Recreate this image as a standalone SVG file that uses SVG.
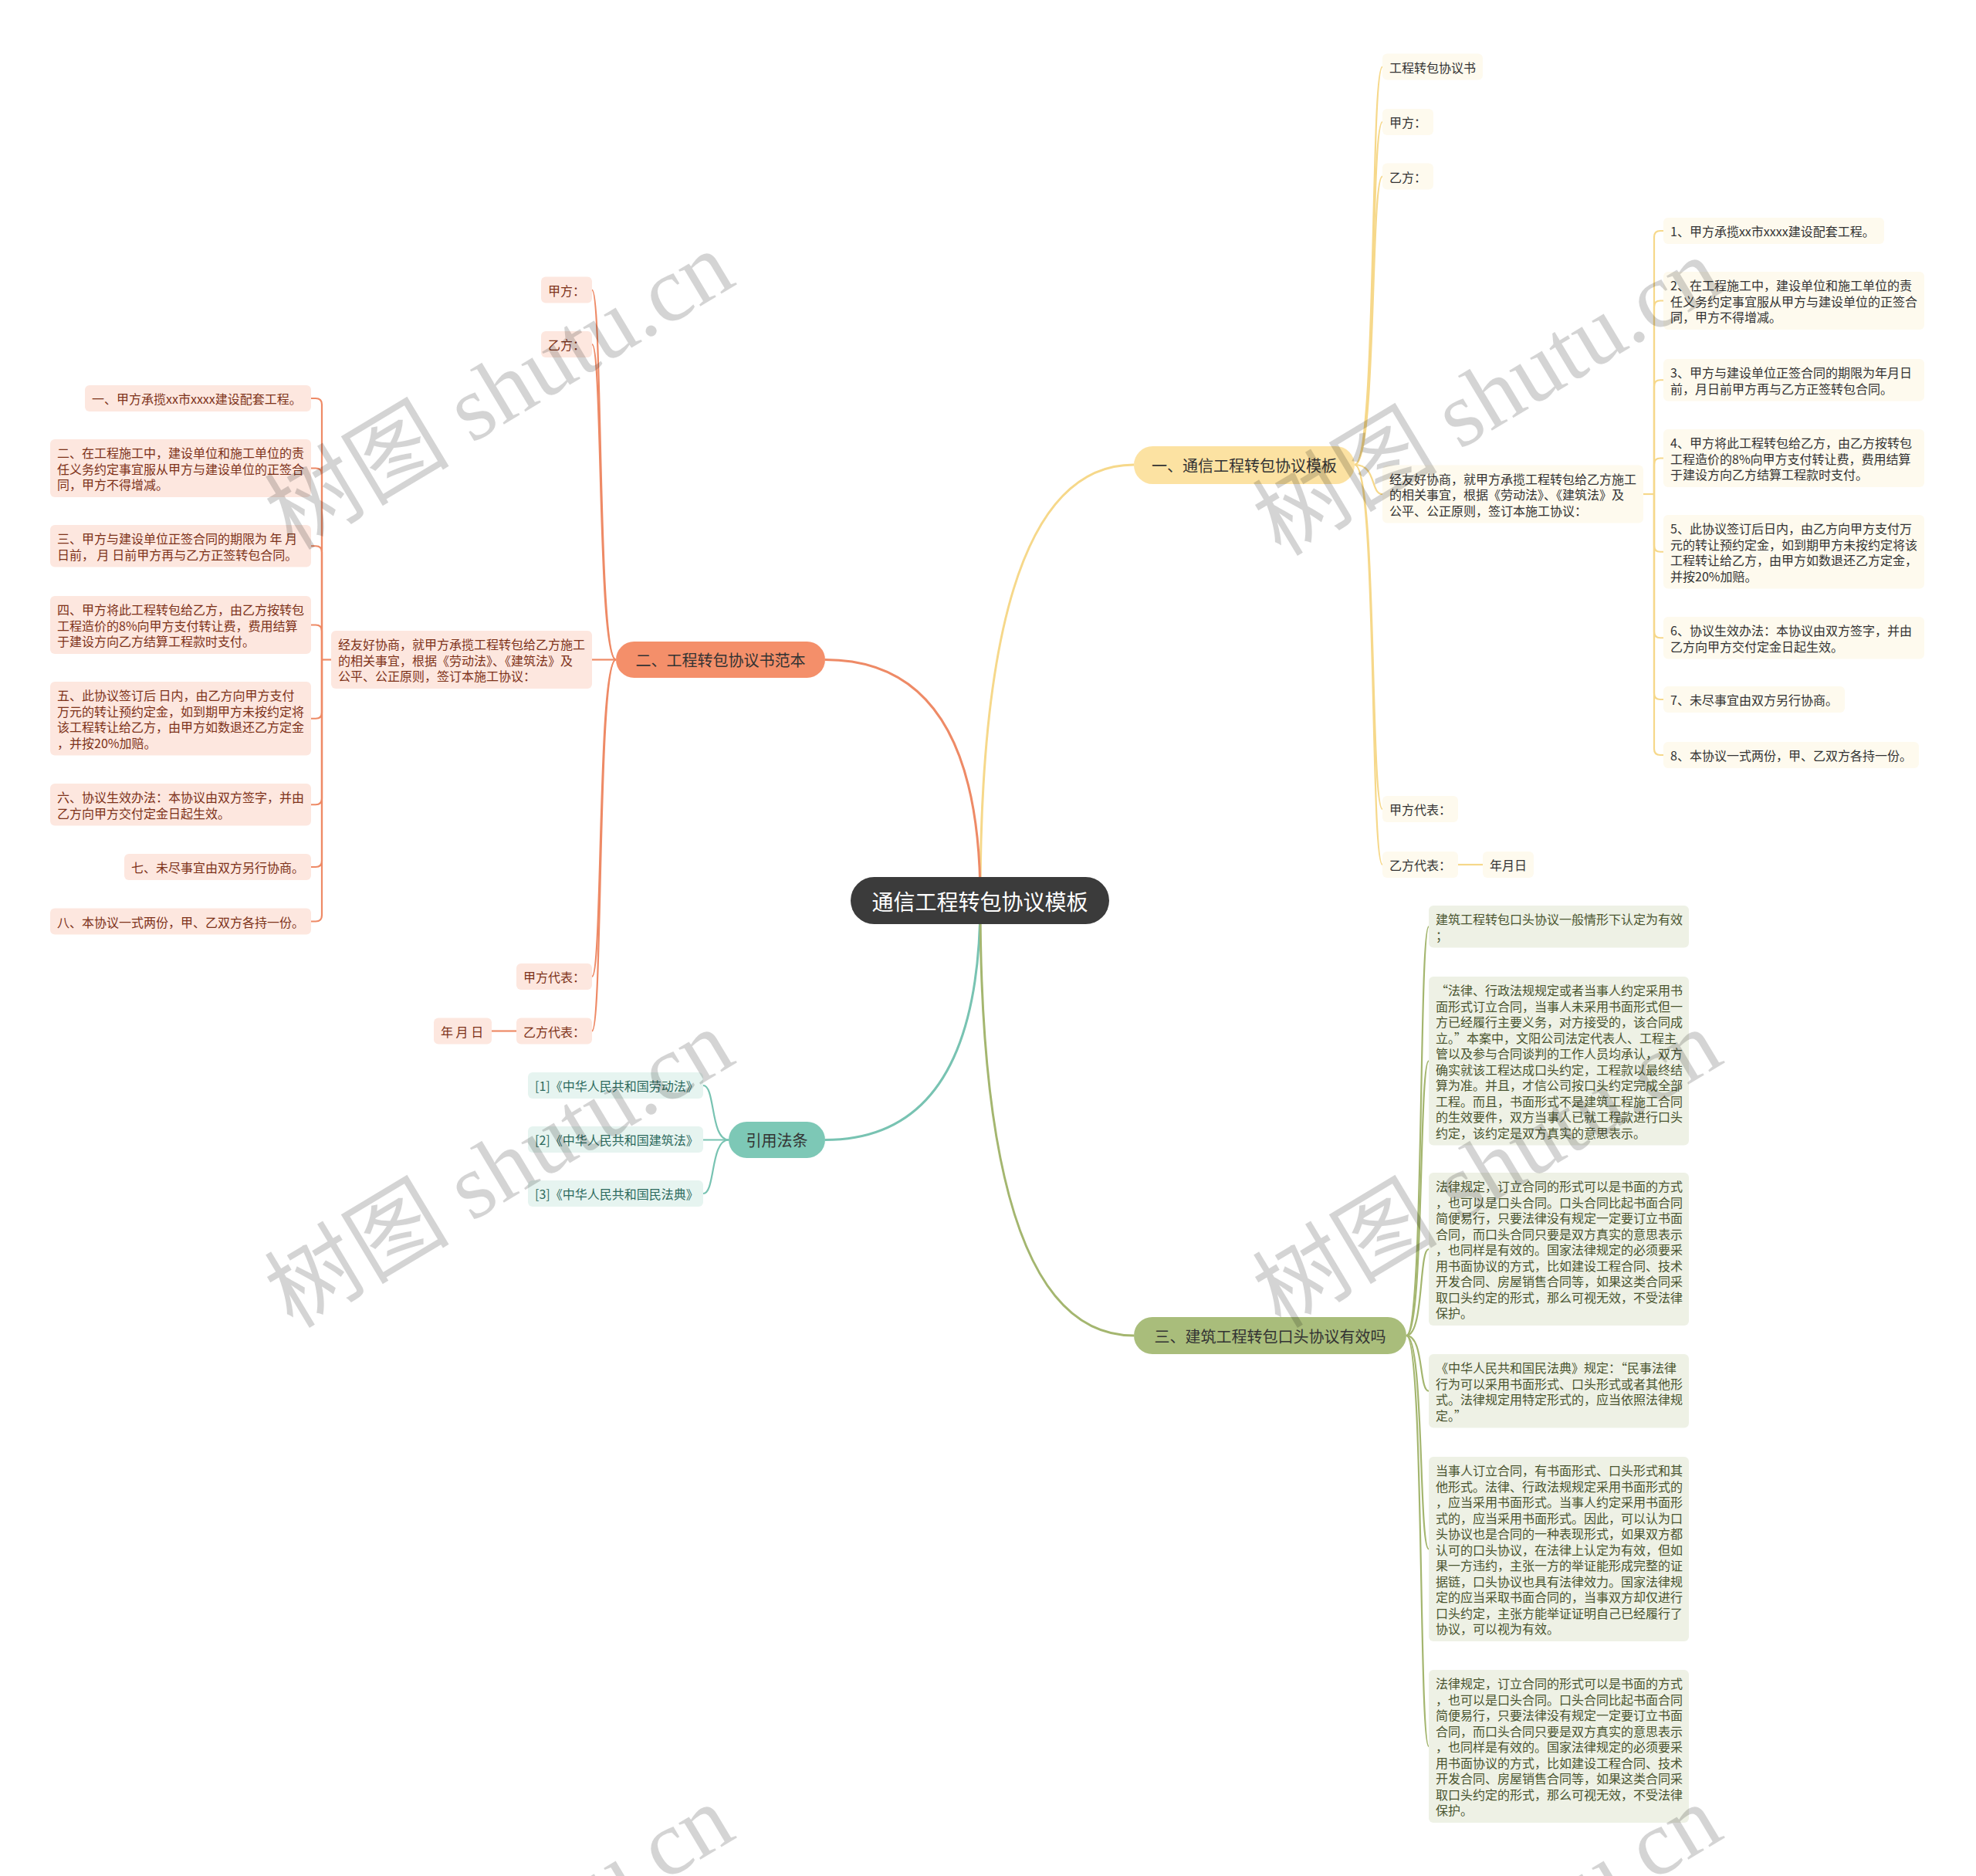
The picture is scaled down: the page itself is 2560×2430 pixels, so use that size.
<svg xmlns="http://www.w3.org/2000/svg" width="2560" height="2430" viewBox="0 0 2560 2430">
<style>
text{font-family:"Noto Sans CJK SC","Noto Sans",sans-serif;dominant-baseline:central}
.s{font-size:16px}
.bt{font-size:20px;fill:#333}
.rt{font-size:28px;fill:#fff}
.cy rect{fill:#fefaee}.cy text{fill:#333}
.co rect{fill:#fde7df}.co text{fill:#7d3219}
.cg rect{fill:#e6f4f0}.cg text{fill:#2d6a5d}
.cv rect{fill:#eef1e5}.cv text{fill:#4a5530}
.ly{stroke:#f6d88a}.lo{stroke:#ee8a66}.lg{stroke:#78c3b2}.lv{stroke:#a4b66f}
#connectors path{fill:none}
.w3{stroke-width:3}.w2{stroke-width:2.2}
.wm{font-family:"Liberation Serif","Noto Sans CJK SC",serif;font-size:120px;fill:#000;fill-opacity:.17;text-anchor:middle}
</style>
<rect width="2560" height="2430" fill="#fff"/>
<g id="connectors">
<path class="ly w3" d="M1270 1166Q1270 602 1469 602"/>
<path class="lo w3" d="M1270 1166Q1270 854.5 1069 854.5"/>
<path class="lg w3" d="M1270 1166Q1270 1476.5 1069 1476.5"/>
<path class="lv w3" d="M1270 1166Q1270 1730 1469 1730"/>
<g class="ly w2">
<path d="M1755 602C1784 602 1775 86.5 1791 86.5"/>
<path d="M1755 602C1784 602 1775 158 1791 158"/>
<path d="M1755 602C1784 602 1775 228.5 1791 228.5"/>
<path d="M1755 602C1784 602 1775 640 1791 640"/>
<path d="M1755 602C1784 602 1775 1048 1791 1048"/>
<path d="M1755 602C1784 602 1775 1120 1791 1120"/>
<path d="M1889 1120H1921"/>
<path d="M2129 640H2143"/>
<path d="M2143 640V307Q2143 299 2151 299H2155"/>
<path d="M2143 640V397.5Q2143 389.5 2151 389.5H2155"/>
<path d="M2143 640V500.25Q2143 492.25 2151 492.25H2155"/>
<path d="M2143 640V601.5Q2143 593.5 2151 593.5H2155"/>
<path d="M2143 640V706.75Q2143 714.75 2151 714.75H2155"/>
<path d="M2143 640V818.25Q2143 826.25 2151 826.25H2155"/>
<path d="M2143 640V898Q2143 906 2151 906H2155"/>
<path d="M2143 640V970Q2143 978 2151 978H2155"/>
</g>
<g class="lo w2">
<path d="M798 854.5C774 854.5 781 375.5 767 375.5"/>
<path d="M798 854.5C774 854.5 781 446 767 446"/>
<path d="M798 854.5H767"/>
<path d="M798 854.5C774 854.5 781 1265 767 1265"/>
<path d="M798 854.5C774 854.5 781 1335.5 767 1335.5"/>
<path d="M669 1335.5H637"/>
<path d="M429 854.5H417"/>
<path d="M417 854.5V524Q417 516 409 516H403"/>
<path d="M417 854.5V614.5Q417 606.5 409 606.5H403"/>
<path d="M417 854.5V715.25Q417 707.25 409 707.25H403"/>
<path d="M417 854.5V817.5Q417 809.5 409 809.5H403"/>
<path d="M417 854.5V922.75Q417 930.75 409 930.75H403"/>
<path d="M417 854.5V1034.25Q417 1042.25 409 1042.25H403"/>
<path d="M417 854.5V1115Q417 1123 409 1123H403"/>
<path d="M417 854.5V1185.5Q417 1193.5 409 1193.5H403"/>
</g>
<g class="lg w2">
<path d="M944 1476.5C920 1476.5 927 1406 911 1406"/>
<path d="M944 1476.5H911"/>
<path d="M944 1476.5C920 1476.5 927 1546 911 1546"/>
</g>
<g class="lv w2">
<path d="M1822 1730C1845 1730 1838 1200.25 1851 1200.25"/>
<path d="M1822 1730C1845 1730 1838 1374.25 1851 1374.25"/>
<path d="M1822 1730C1845 1730 1838 1618 1851 1618"/>
<path d="M1822 1730C1845 1730 1838 1801.75 1851 1801.75"/>
<path d="M1822 1730C1845 1730 1838 2006.5 1851 2006.5"/>
<path d="M1822 1730C1845 1730 1838 2262 1851 2262"/>
</g>
</g>

<g id="root"><rect x="1102" y="1136" width="335" height="61" rx="30.5" fill="#3b3b3b"/><text class="rt" x="1269.5" y="1166.5" text-anchor="middle">通信工程转包协议模板</text></g>

<g id="b1"><rect x="1469" y="578" width="286" height="49" rx="24.5" fill="#fce2a2"/><text class="bt" x="1612" y="602.5" text-anchor="middle">一、通信工程转包协议模板</text></g>
<g id="b2"><rect x="798" y="831" width="271" height="47" rx="23.5" fill="#f48f6a"/><text class="bt" x="933.5" y="854.5" text-anchor="middle">二、工程转包协议书范本</text></g>
<g id="b3"><rect x="944" y="1453" width="125" height="47" rx="23.5" fill="#7dc8b6"/><text class="bt" x="1006.5" y="1476.5" text-anchor="middle">引用法条</text></g>
<g id="b4"><rect x="1469" y="1706" width="353" height="48" rx="24" fill="#a9bd7b"/><text class="bt" x="1645.5" y="1730" text-anchor="middle">三、建筑工程转包口头协议有效吗</text></g>

<g class="cy">
<g id="y-a"><rect x="1791" y="69.5" width="130" height="34" rx="6"/><text class="s" x="1800" y="86.5">工程转包协议书</text></g>
<g id="y-b"><rect x="1791" y="141" width="66" height="34" rx="6"/><text class="s" x="1800" y="158">甲方：</text></g>
<g id="y-c"><rect x="1791" y="211.5" width="66" height="34" rx="6"/><text class="s" x="1800" y="228.5">乙方：</text></g>
<g id="y-d"><rect x="1791" y="602.5" width="338" height="75" rx="6"/><text class="s"><tspan x="1800" y="619.5">经友好协商，就甲方承揽工程转包给乙方施工</tspan><tspan x="1800" y="640">的相关事宜，根据《劳动法》、《建筑法》及</tspan><tspan x="1800" y="660.5">公平、公正原则，签订本施工协议：</tspan></text></g>
<g id="y-e"><rect x="1791" y="1031" width="98" height="34" rx="6"/><text class="s" x="1800" y="1048">甲方代表：</text></g>
<g id="y-f"><rect x="1791" y="1103" width="98" height="34" rx="6"/><text class="s" x="1800" y="1120">乙方代表：</text></g>
<g id="y-g"><rect x="1921" y="1103" width="66" height="34" rx="6"/><text class="s" x="1930" y="1120">年月日</text></g>
<g id="y-1"><rect x="2155" y="282" width="286" height="34" rx="6"/><text class="s" x="2164" y="299">1、甲方承揽xx市xxxx建设配套工程。</text></g>
<g id="y-2"><rect x="2155" y="352" width="338" height="75" rx="6"/><text class="s"><tspan x="2164" y="369">2、在工程施工中，建设单位和施工单位的责</tspan><tspan x="2164" y="389.5">任义务约定事宜服从甲方与建设单位的正签合</tspan><tspan x="2164" y="410">同，甲方不得增减。</tspan></text></g>
<g id="y-3"><rect x="2155" y="465" width="338" height="54.5" rx="6"/><text class="s"><tspan x="2164" y="482">3、甲方与建设单位正签合同的期限为年月日</tspan><tspan x="2164" y="502.5">前，月日前甲方再与乙方正签转包合同。</tspan></text></g>
<g id="y-4"><rect x="2155" y="556" width="338" height="75" rx="6"/><text class="s"><tspan x="2164" y="573">4、甲方将此工程转包给乙方，由乙方按转包</tspan><tspan x="2164" y="593.5">工程造价的8%向甲方支付转让费，费用结算</tspan><tspan x="2164" y="614">于建设方向乙方结算工程款时支付。</tspan></text></g>
<g id="y-5"><rect x="2155" y="667" width="338" height="95.5" rx="6"/><text class="s"><tspan x="2164" y="684">5、此协议签订后日内，由乙方向甲方支付万</tspan><tspan x="2164" y="704.5">元的转让预约定金，如到期甲方未按约定将该</tspan><tspan x="2164" y="725">工程转让给乙方，由甲方如数退还乙方定金，</tspan><tspan x="2164" y="745.5">并按20%加赔。</tspan></text></g>
<g id="y-6"><rect x="2155" y="799" width="338" height="54.5" rx="6"/><text class="s"><tspan x="2164" y="816">6、协议生效办法：本协议由双方签字，并由</tspan><tspan x="2164" y="836.5">乙方向甲方交付定金日起生效。</tspan></text></g>
<g id="y-7"><rect x="2155" y="889" width="235" height="34" rx="6"/><text class="s" x="2164" y="906">7、未尽事宜由双方另行协商。</text></g>
<g id="y-8"><rect x="2155" y="961" width="331" height="34" rx="6"/><text class="s" x="2164" y="978">8、本协议一式两份，甲、乙双方各持一份。</text></g>
</g>

<g class="co">
<g id="o-a"><rect x="701" y="358.5" width="66" height="34" rx="6"/><text class="s" x="710" y="375.5">甲方：</text></g>
<g id="o-b"><rect x="701" y="429" width="66" height="34" rx="6"/><text class="s" x="710" y="446">乙方：</text></g>
<g id="o-c"><rect x="429" y="817" width="338" height="75" rx="6"/><text class="s"><tspan x="438" y="834">经友好协商，就甲方承揽工程转包给乙方施工</tspan><tspan x="438" y="854.5">的相关事宜，根据《劳动法》、《建筑法》及</tspan><tspan x="438" y="875">公平、公正原则，签订本施工协议：</tspan></text></g>
<g id="o-d"><rect x="669" y="1248" width="98" height="34" rx="6"/><text class="s" x="678" y="1265">甲方代表：</text></g>
<g id="o-e"><rect x="669" y="1318.5" width="98" height="34" rx="6"/><text class="s" x="678" y="1335.5">乙方代表：</text></g>
<g id="o-f"><rect x="562" y="1318.5" width="75" height="34" rx="6"/><text class="s" x="571" y="1335.5">年 月 日</text></g>
<g id="o-1"><rect x="110" y="499" width="293" height="34" rx="6"/><text class="s" x="119" y="516">一、甲方承揽xx市xxxx建设配套工程。</text></g>
<g id="o-2"><rect x="65" y="569" width="338" height="75" rx="6"/><text class="s"><tspan x="74" y="586">二、在工程施工中，建设单位和施工单位的责</tspan><tspan x="74" y="606.5">任义务约定事宜服从甲方与建设单位的正签合</tspan><tspan x="74" y="627">同，甲方不得增减。</tspan></text></g>
<g id="o-3"><rect x="65" y="680" width="338" height="54.5" rx="6"/><text class="s"><tspan x="74" y="697">三、甲方与建设单位正签合同的期限为 年 月</tspan><tspan x="74" y="717.5">日前， 月 日前甲方再与乙方正签转包合同。</tspan></text></g>
<g id="o-4"><rect x="65" y="772" width="338" height="75" rx="6"/><text class="s"><tspan x="74" y="789">四、甲方将此工程转包给乙方，由乙方按转包</tspan><tspan x="74" y="809.5">工程造价的8%向甲方支付转让费，费用结算</tspan><tspan x="74" y="830">于建设方向乙方结算工程款时支付。</tspan></text></g>
<g id="o-5"><rect x="65" y="883" width="338" height="95.5" rx="6"/><text class="s"><tspan x="74" y="900">五、此协议签订后 日内，由乙方向甲方支付</tspan><tspan x="74" y="920.5">万元的转让预约定金，如到期甲方未按约定将</tspan><tspan x="74" y="941">该工程转让给乙方，由甲方如数退还乙方定金</tspan><tspan x="74" y="961.5">，并按20%加赔。</tspan></text></g>
<g id="o-6"><rect x="65" y="1015" width="338" height="54.5" rx="6"/><text class="s"><tspan x="74" y="1032">六、协议生效办法：本协议由双方签字，并由</tspan><tspan x="74" y="1052.5">乙方向甲方交付定金日起生效。</tspan></text></g>
<g id="o-7"><rect x="161" y="1106" width="242" height="34" rx="6"/><text class="s" x="170" y="1123">七、未尽事宜由双方另行协商。</text></g>
<g id="o-8"><rect x="65" y="1176.5" width="338" height="34" rx="6"/><text class="s" x="74" y="1193.5">八、本协议一式两份，甲、乙双方各持一份。</text></g>
</g>

<g class="cg">
<g id="g-1"><rect x="684" y="1389" width="227" height="34" rx="6"/><text class="s" x="693" y="1406">[1]《中华人民共和国劳动法》</text></g>
<g id="g-2"><rect x="684" y="1459" width="227" height="34" rx="6"/><text class="s" x="693" y="1476">[2]《中华人民共和国建筑法》</text></g>
<g id="g-3"><rect x="684" y="1529" width="227" height="34" rx="6"/><text class="s" x="693" y="1546">[3]《中华人民共和国民法典》</text></g>
</g>

<g class="cv">
<g id="v-1"><rect x="1851" y="1173" width="337" height="54.5" rx="6"/><text class="s"><tspan x="1860" y="1190">建筑工程转包口头协议一般情形下认定为有效</tspan><tspan x="1860" y="1210.5">；</tspan></text></g>
<g id="v-2"><rect x="1851" y="1265" width="337" height="218.5" rx="6"/><text class="s"><tspan x="1860" y="1282">“法律、行政法规规定或者当事人约定采用书</tspan><tspan x="1860" y="1302.5">面形式订立合同，当事人未采用书面形式但一</tspan><tspan x="1860" y="1323">方已经履行主要义务，对方接受的，该合同成</tspan><tspan x="1860" y="1343.5">立。”本案中，文阳公司法定代表人、工程主</tspan><tspan x="1860" y="1364">管以及参与合同谈判的工作人员均承认，双方</tspan><tspan x="1860" y="1384.5">确实就该工程达成口头约定，工程款以最终结</tspan><tspan x="1860" y="1405">算为准。并且，才信公司按口头约定完成全部</tspan><tspan x="1860" y="1425.5">工程。而且，书面形式不是建筑工程施工合同</tspan><tspan x="1860" y="1446">的生效要件，双方当事人已就工程款进行口头</tspan><tspan x="1860" y="1466.5">约定，该约定是双方真实的意思表示。</tspan></text></g>
<g id="v-3"><rect x="1851" y="1519" width="337" height="198" rx="6"/><text class="s"><tspan x="1860" y="1536">法律规定，订立合同的形式可以是书面的方式</tspan><tspan x="1860" y="1556.5">，也可以是口头合同。口头合同比起书面合同</tspan><tspan x="1860" y="1577">简便易行，只要法律没有规定一定要订立书面</tspan><tspan x="1860" y="1597.5">合同，而口头合同只要是双方真实的意思表示</tspan><tspan x="1860" y="1618">，也同样是有效的。国家法律规定的必须要采</tspan><tspan x="1860" y="1638.5">用书面协议的方式，比如建设工程合同、技术</tspan><tspan x="1860" y="1659">开发合同、房屋销售合同等，如果这类合同采</tspan><tspan x="1860" y="1679.5">取口头约定的形式，那么可视无效，不受法律</tspan><tspan x="1860" y="1700">保护。</tspan></text></g>
<g id="v-4"><rect x="1851" y="1754" width="337" height="95.5" rx="6"/><text class="s"><tspan x="1860" y="1771">《中华人民共和国民法典》规定：“民事法律</tspan><tspan x="1860" y="1791.5">行为可以采用书面形式、口头形式或者其他形</tspan><tspan x="1860" y="1812">式。法律规定用特定形式的，应当依照法律规</tspan><tspan x="1860" y="1832.5">定。”</tspan></text></g>
<g id="v-5"><rect x="1851" y="1887" width="337" height="239" rx="6"/><text class="s"><tspan x="1860" y="1904">当事人订立合同，有书面形式、口头形式和其</tspan><tspan x="1860" y="1924.5">他形式。法律、行政法规规定采用书面形式的</tspan><tspan x="1860" y="1945">，应当采用书面形式。当事人约定采用书面形</tspan><tspan x="1860" y="1965.5">式的，应当采用书面形式。因此，可以认为口</tspan><tspan x="1860" y="1986">头协议也是合同的一种表现形式，如果双方都</tspan><tspan x="1860" y="2006.5">认可的口头协议，在法律上认定为有效，但如</tspan><tspan x="1860" y="2027">果一方违约，主张一方的举证能形成完整的证</tspan><tspan x="1860" y="2047.5">据链，口头协议也具有法律效力。国家法律规</tspan><tspan x="1860" y="2068">定的应当采取书面合同的，当事双方却仅进行</tspan><tspan x="1860" y="2088.5">口头约定，主张方能举证证明自己已经履行了</tspan><tspan x="1860" y="2109">协议，可以视为有效。</tspan></text></g>
<g id="v-6"><rect x="1851" y="2163" width="337" height="198" rx="6"/><text class="s"><tspan x="1860" y="2180">法律规定，订立合同的形式可以是书面的方式</tspan><tspan x="1860" y="2200.5">，也可以是口头合同。口头合同比起书面合同</tspan><tspan x="1860" y="2221">简便易行，只要法律没有规定一定要订立书面</tspan><tspan x="1860" y="2241.5">合同，而口头合同只要是双方真实的意思表示</tspan><tspan x="1860" y="2262">，也同样是有效的。国家法律规定的必须要采</tspan><tspan x="1860" y="2282.5">用书面协议的方式，比如建设工程合同、技术</tspan><tspan x="1860" y="2303">开发合同、房屋销售合同等，如果这类合同采</tspan><tspan x="1860" y="2323.5">取口头约定的形式，那么可视无效，不受法律</tspan><tspan x="1860" y="2344">保护。</tspan></text></g>
</g>

<g id="watermark">
<text class="wm" transform="translate(647 506) rotate(-31)">树图 shutu.cn</text>
<text class="wm" transform="translate(1927 514) rotate(-31)">树图 shutu.cn</text>
<text class="wm" transform="translate(647 1514) rotate(-31)">树图 shutu.cn</text>
<text class="wm" transform="translate(1927 1514) rotate(-31)">树图 shutu.cn</text>
<text class="wm" transform="translate(647 2518) rotate(-31)">树图 shutu.cn</text>
<text class="wm" transform="translate(1927 2518) rotate(-31)">树图 shutu.cn</text>
</g>
</svg>
